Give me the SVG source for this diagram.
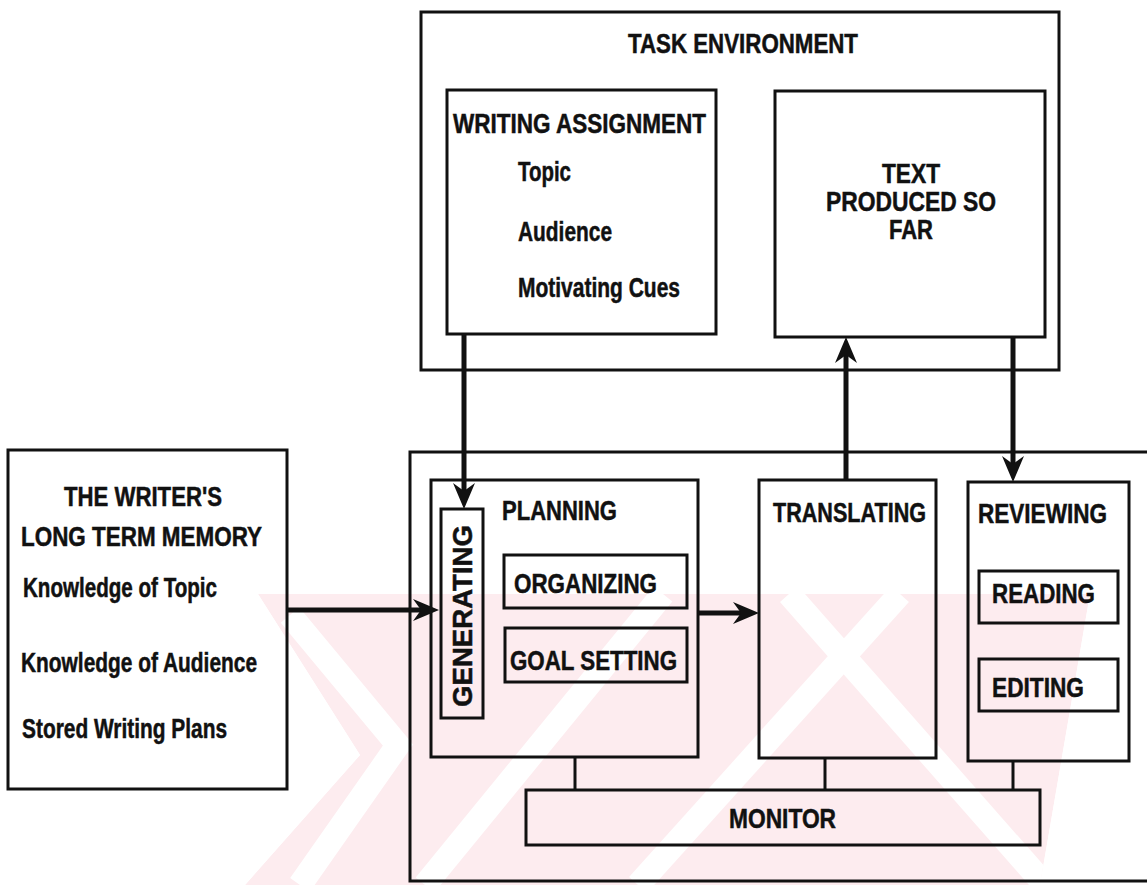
<svg xmlns="http://www.w3.org/2000/svg" width="1147" height="885" viewBox="0 0 1147 885">
  <style>
    .box { fill: none; stroke: #111; stroke-width: 3; }
    .lbl { font-family: "Liberation Sans", Arial, sans-serif; font-weight: bold; font-size: 27px; fill: #111; stroke: #111; stroke-width: 0.5; }
    .arrow { fill: none; stroke: #111; stroke-width: 5; }
    .tie { fill: none; stroke: #111; stroke-width: 3; }
    .wm { fill: #fdecef; }
    .wm-gap { fill: none; stroke: #fff; stroke-width: 24; }
  </style>
  <defs>
    <marker id="head" markerUnits="userSpaceOnUse" markerWidth="30" markerHeight="26" viewBox="0 -13 28 26" refX="8" refY="0" orient="auto">
      <path d="M0,-11 L26,0 L0,11 L8,0 Z" fill="#111"/>
    </marker>
    <clipPath id="stamp-area">
      <polygon points="258,594 1090,594 1040,885 245,885 360,755"/>
    </clipPath>
  </defs>

  <rect width="1147" height="885" fill="#fff"/>

  <!-- faint background stamp -->
  <g id="watermark" clip-path="url(#stamp-area)">
    <polygon class="wm" points="258,594 1090,594 1040,885 245,885 360,755"/>
    <polyline class="wm-gap" points="290,615 398,745 300,885"/>
    <line class="wm-gap" x1="425" y1="885" x2="663" y2="594"/>
    <line class="wm-gap" x1="638" y1="885" x2="900" y2="594"/>
    <line class="wm-gap" x1="789" y1="594" x2="1045" y2="885"/>
  </g>

  <!-- task environment -->
  <g id="task-environment">
    <rect class="box" x="421" y="12" width="638" height="358"/>
    <text class="lbl" x="628" y="53" textLength="230" lengthAdjust="spacingAndGlyphs">TASK ENVIRONMENT</text>
  </g>
  <g id="writing-assignment">
    <rect class="box" x="447" y="90" width="269" height="244"/>
    <text class="lbl" x="453" y="133" textLength="253" lengthAdjust="spacingAndGlyphs">WRITING ASSIGNMENT</text>
    <text class="lbl" x="518" y="181" textLength="53" lengthAdjust="spacingAndGlyphs">Topic</text>
    <text class="lbl" x="518" y="241" textLength="94" lengthAdjust="spacingAndGlyphs">Audience</text>
    <text class="lbl" x="518" y="297" textLength="162" lengthAdjust="spacingAndGlyphs">Motivating Cues</text>
  </g>
  <g id="text-produced">
    <rect class="box" x="775" y="91" width="270" height="246"/>
    <text class="lbl" x="882" y="183" textLength="58" lengthAdjust="spacingAndGlyphs">TEXT</text>
    <text class="lbl" x="826" y="211" textLength="170" lengthAdjust="spacingAndGlyphs">PRODUCED SO</text>
    <text class="lbl" x="889" y="239" textLength="44" lengthAdjust="spacingAndGlyphs">FAR</text>
  </g>

  <!-- long term memory -->
  <g id="long-term-memory">
    <rect class="box" x="8" y="450" width="279" height="339"/>
    <text class="lbl" x="64" y="506" textLength="158" lengthAdjust="spacingAndGlyphs">THE WRITER'S</text>
    <text class="lbl" x="21" y="546" textLength="241" lengthAdjust="spacingAndGlyphs">LONG TERM MEMORY</text>
    <text class="lbl" x="23" y="597" textLength="194" lengthAdjust="spacingAndGlyphs">Knowledge of Topic</text>
    <text class="lbl" x="21" y="672" textLength="236" lengthAdjust="spacingAndGlyphs">Knowledge of Audience</text>
    <text class="lbl" x="22" y="738" textLength="205" lengthAdjust="spacingAndGlyphs">Stored Writing Plans</text>
  </g>

  <!-- writing processes (right edge runs past the page) -->
  <g id="writing-processes">
    <rect class="box" x="410" y="452" width="745" height="429"/>
  </g>
  <g id="planning">
    <rect class="box" x="431" y="480" width="267" height="277"/>
    <text class="lbl" x="502" y="520" textLength="115" lengthAdjust="spacingAndGlyphs">PLANNING</text>
  </g>
  <g id="generating">
    <rect class="box" x="441" y="509" width="42" height="209"/>
    <text class="lbl" transform="translate(472,707) rotate(-90)" textLength="182" lengthAdjust="spacingAndGlyphs">GENERATING</text>
  </g>
  <g id="organizing">
    <rect class="box" x="504" y="555" width="183" height="53"/>
    <text class="lbl" x="514" y="593" textLength="143" lengthAdjust="spacingAndGlyphs">ORGANIZING</text>
  </g>
  <g id="goal-setting">
    <rect class="box" x="505" y="628" width="182" height="54"/>
    <text class="lbl" x="510" y="670" textLength="167" lengthAdjust="spacingAndGlyphs">GOAL SETTING</text>
  </g>
  <g id="translating">
    <rect class="box" x="759" y="480" width="177" height="278"/>
    <text class="lbl" x="773" y="522" textLength="153" lengthAdjust="spacingAndGlyphs">TRANSLATING</text>
  </g>
  <g id="reviewing">
    <rect class="box" x="968" y="482" width="161" height="279"/>
    <text class="lbl" x="978" y="523" textLength="129" lengthAdjust="spacingAndGlyphs">REVIEWING</text>
  </g>
  <g id="reading">
    <rect class="box" x="979" y="571" width="139" height="52"/>
    <text class="lbl" x="992" y="603" textLength="103" lengthAdjust="spacingAndGlyphs">READING</text>
  </g>
  <g id="editing">
    <rect class="box" x="979" y="659" width="139" height="52"/>
    <text class="lbl" x="992" y="697" textLength="92" lengthAdjust="spacingAndGlyphs">EDITING</text>
  </g>
  <g id="monitor">
    <rect class="box" x="526" y="790" width="514" height="55"/>
    <text class="lbl" x="729" y="828" textLength="107" lengthAdjust="spacingAndGlyphs">MONITOR</text>
  </g>

  <!-- connectors -->
  <g id="connectors">
    <line class="arrow" x1="287" y1="610" x2="421" y2="610" stroke-width="6" marker-end="url(#head)"/>
    <line class="arrow" x1="698" y1="613" x2="741" y2="613" marker-end="url(#head)"/>
    <line class="arrow" x1="464" y1="334" x2="464" y2="491" marker-end="url(#head)"/>
    <line class="arrow" x1="846" y1="480" x2="846" y2="355" marker-end="url(#head)"/>
    <line class="arrow" x1="1013" y1="337" x2="1013" y2="464" marker-end="url(#head)"/>
    <line class="tie" x1="575" y1="757" x2="575" y2="790"/>
    <line class="tie" x1="825" y1="758" x2="825" y2="790"/>
    <line class="tie" x1="1013" y1="761" x2="1013" y2="790"/>
  </g>
</svg>
